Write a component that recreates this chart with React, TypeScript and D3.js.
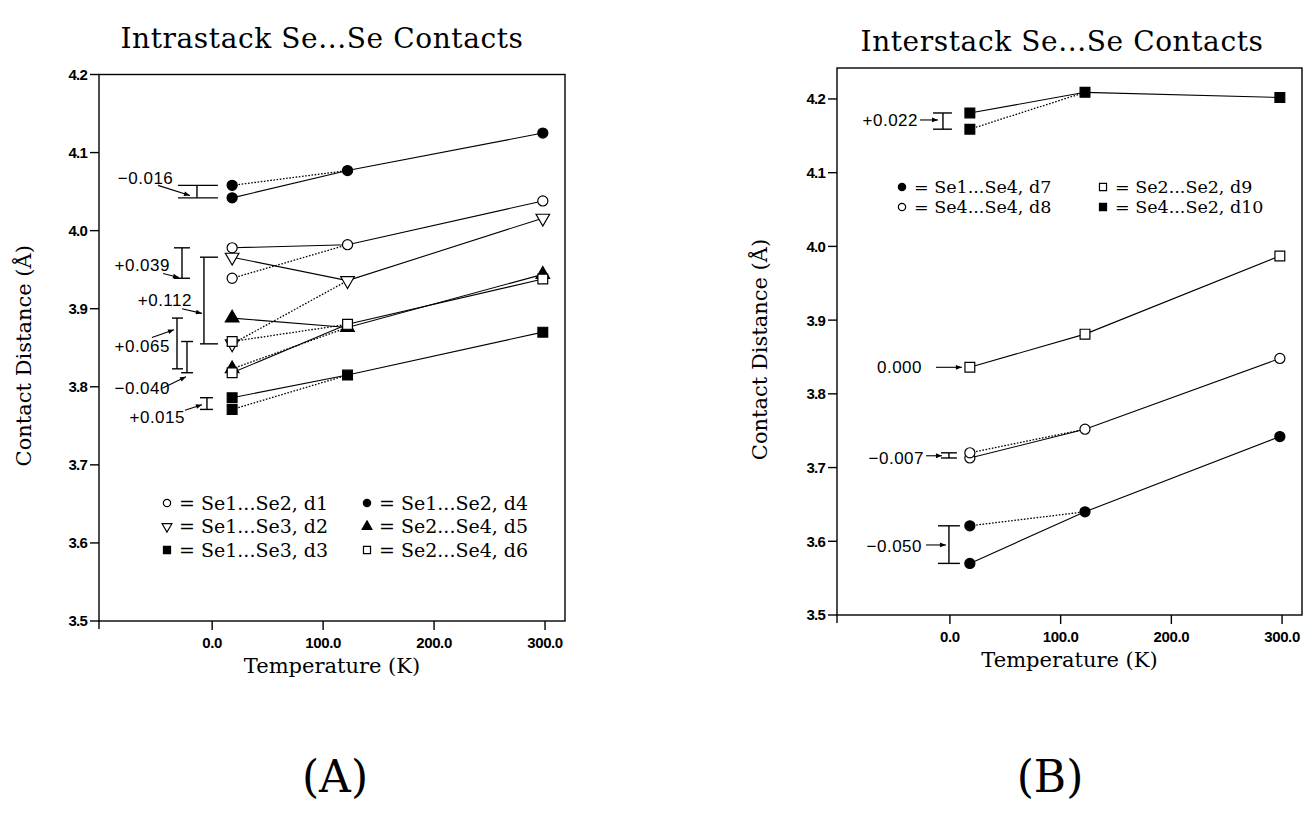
import React from "react";
import * as d3 from "d3";

// temperatures of the three data sets (K)
const temps = [18, 122, 298];
const xTicks = [0, 100, 200, 300];

// (A) intrastack contacts
const intraLabels = ["Se1...Se2, d1", "Se1...Se3, d2", "Se1...Se3, d3", "Se1...Se2, d4", "Se2...Se4, d5", "Se2...Se4, d6"];
const intraSymbols = ["circleOpen", "triDownOpen", "squareFilled", "circleFilled", "triUpFilled", "squareOpen"];
const intraSolid0 = [3.978, 3.966, 3.786, 4.042, 3.888, 3.818];
const intraDotted0 = [3.939, 3.855, 3.771, 4.058, 3.823, 3.858];
const intraMid = [3.982, 3.936, 3.815, 4.077, 3.876, 3.88];
const intraHigh = [4.038, 4.016, 3.87, 4.125, 3.944, 3.938];
const intraDiff = ["+0.039", "+0.112", "+0.015", "\u22120.016", "+0.065", "\u22120.040"];
const intraYTicks = [3.5, 3.6, 3.7, 3.8, 3.9, 4.0, 4.1, 4.2];

// (B) interstack contacts
const interLabels = ["Se1...Se4, d7", "Se4...Se4, d8", "Se2...Se2, d9", "Se4...Se2, d10"];
const interSymbols = ["circleFilled", "circleOpen", "squareOpen", "squareFilled"];
const interSolid0 = [3.57, 3.713, 3.836, 4.181];
const interDotted0 = [3.621, 3.72, null, 4.159];
const interMid = [3.64, 3.752, 3.881, 4.209];
const interHigh = [3.742, 3.848, 3.987, 4.202];
const interDiff = ["\u22120.050", "\u22120.007", "0.000", "+0.022"];
const interYTicks = [3.5, 3.6, 3.7, 3.8, 3.9, 4.0, 4.1, 4.2];

// annotation placement, in temperature / distance units
const intraNotes = [
  { bx: -27.2, cap: [-34.4, -20], lab: [-38, 3.956], arr: [[-44.3, 3.945], [-29.9, 3.94]] },
  { bx: -7.4, cap: [-11, 5.2], lab: [-18.2, 3.911], arr: [[-27.2, 3.9], [-9.2, 3.894]] },
  { bx: -4.7, cap: [-11, 0.7], lab: [-24.5, 3.762], arr: [[-24.5, 3.77], [-9.2, 3.777]] },
  { bx: -13.7, cap: [-30.8, 5.2], lab: [-35, 4.068], arr: [[-48.8, 4.058], [-20, 4.045]] },
  { bx: -31.7, cap: [-36.2, -26.3], lab: [-38, 3.852], arr: [[-54.3, 3.863], [-34.4, 3.873]] },
  { bx: -22.7, cap: [-28, -17.3], lab: [-38, 3.798], arr: [[-45, 3.798], [-23.6, 3.813]] },
];
const interNotes = [
  { bx: -0.9, cap: [-10.8, 9], lab: [-25.2, 3.594], arr: [[-21.6, 3.595], [-3.6, 3.595]] },
  { bx: -0.9, cap: [-8.1, 6.3], lab: [-23.4, 3.713], arr: [[-21.6, 3.716], [-7.2, 3.716]] },
  { bx: null, cap: null, lab: [-25.2, 3.836], arr: [[-12.6, 3.836], [10.8, 3.836]] },
  { bx: -6.3, cap: [-15.3, 1.8], lab: [-28.8, 4.1715], arr: [[-27, 4.1715], [-10.8, 4.1715]] },
];

const SERIF = "'DejaVu Serif', serif";
const SANS = "'Liberation Sans', Arial, sans-serif";

function Marker({ kind, x, y, s = 1 }) {
  const filled = kind.endsWith("Filled");
  let type = d3.symbolCircle;
  let size = 80;
  let rot = 0;
  if (kind.startsWith("square")) { type = d3.symbolSquare; size = 96; }
  if (kind.startsWith("triUp")) { type = d3.symbolTriangle; size = 80; }
  if (kind.startsWith("triDown")) { type = d3.symbolTriangle; size = 80; rot = 180; }
  const d = d3.symbol(type, size * s * s)();
  return (
    <path d={d} transform={`translate(${x},${y}) rotate(${rot})`}
      fill={filled ? "#000" : "#fff"} stroke="#000" strokeWidth={1.2} />
  );
}

function Panel(props) {
  const { left, right, top, bottom, yMax, yTicks, title, titleX, titleY, letter, letterX,
    labels, symbols, solid0, dotted0, mid, high, diffs, notes, legend, yLabelX } = props;
  const x = d3.scaleLinear().domain([-102, 318]).range([left, right]);
  const y = d3.scaleLinear().domain([3.5, yMax]).range([bottom, top]);
  const line = d3.line().x((d) => x(d[0])).y((d) => y(d[1]));

  return (
    <g>
      <text x={titleX} y={titleY} textAnchor="middle" fontFamily={SERIF} fontSize={28} letterSpacing={0.6}>{title}</text>
      <text x={letterX} y={792} textAnchor="middle" fontFamily={SERIF} fontSize={44} fontWeight={200}>{letter}</text>

      {/* frame */}
      <rect x={left} y={top} width={right - left} height={bottom - top} fill="none" stroke="#000" strokeWidth={1.4} />
      <line x1={left} x2={left} y1={bottom} y2={bottom + 8} stroke="#000" strokeWidth={1.4} />

      {yTicks.map((t) => (
        <g key={t}>
          <line x1={left - 9} x2={left} y1={y(t)} y2={y(t)} stroke="#000" strokeWidth={1.4} />
          <text x={left - 12} y={y(t)} dy="0.36em" textAnchor="end" fontFamily={SANS} fontWeight="bold" fontSize={15} letterSpacing={-0.8}>{t.toFixed(1)}</text>
        </g>
      ))}
      {xTicks.map((t) => (
        <g key={t}>
          <line x1={x(t)} x2={x(t)} y1={bottom} y2={bottom + 9} stroke="#000" strokeWidth={1.4} />
          <text x={x(t)} y={bottom + 27} textAnchor="middle" fontFamily={SANS} fontWeight="bold" fontSize={15} letterSpacing={-0.4}>{t.toFixed(1)}</text>
        </g>
      ))}
      <text x={(left + right) / 2} y={bottom + 52} textAnchor="middle" fontFamily={SERIF} fontSize={21}>Temperature (K)</text>
      <text transform={`translate(${yLabelX},${(top + bottom) / 2 + 8}) rotate(-90)`} textAnchor="middle" fontFamily={SERIF} fontSize={21}>Contact Distance (Å)</text>

      {/* series lines */}
      {labels.map((_, i) => (
        <g key={"l" + i}>
          <path d={line([[temps[0], solid0[i]], [temps[1], mid[i]], [temps[2], high[i]]])} fill="none" stroke="#000" strokeWidth={1.1} />
          {dotted0[i] != null && (
            <path d={line([[temps[0], dotted0[i]], [temps[1], mid[i]]])} fill="none" stroke="#000" strokeWidth={1.3} strokeDasharray="1.6,1.6" />
          )}
        </g>
      ))}
      {/* markers */}
      {labels.map((_, i) => (
        <g key={"m" + i}>
          <Marker kind={symbols[i]} x={x(temps[0])} y={y(solid0[i])} />
          {dotted0[i] != null && <Marker kind={symbols[i]} x={x(temps[0])} y={y(dotted0[i])} />}
          <Marker kind={symbols[i]} x={x(temps[1])} y={y(mid[i])} />
          <Marker kind={symbols[i]} x={x(temps[2])} y={y(high[i])} />
        </g>
      ))}

      {/* difference brackets */}
      {notes.map((n, i) => (
        <g key={"n" + i}>
          {n.bx != null && (
            <g stroke="#000" strokeWidth={1.4}>
              <line x1={x(n.bx)} x2={x(n.bx)} y1={y(solid0[i])} y2={y(dotted0[i])} />
              <line x1={x(n.cap[0])} x2={x(n.cap[1])} y1={y(solid0[i])} y2={y(solid0[i])} />
              <line x1={x(n.cap[0])} x2={x(n.cap[1])} y1={y(dotted0[i])} y2={y(dotted0[i])} />
            </g>
          )}
          <line x1={x(n.arr[0][0])} y1={y(n.arr[0][1])} x2={x(n.arr[1][0])} y2={y(n.arr[1][1])}
            stroke="#000" strokeWidth={1.1} markerEnd="url(#ah)" />
          <text x={x(n.lab[0])} y={y(n.lab[1])} dy="0.36em" textAnchor="end" fontFamily={SANS} fontSize={17} letterSpacing={0.5}>{diffs[i]}</text>
        </g>
      ))}

      {/* legend */}
      {labels.map((lab, i) => {
        const col = Math.floor(i / legend.rows);
        const row = i % legend.rows;
        const lx = legend.x + col * legend.colGap;
        const ly = legend.y + row * legend.rowGap;
        return (
          <g key={"g" + i}>
            <Marker kind={symbols[i]} x={lx} y={ly} s={0.72} />
            <text x={lx + 12} y={ly} dy="0.36em" fontFamily={SERIF} fontSize={legend.fontSize}>{"= " + lab}</text>
          </g>
        );
      })}
    </g>
  );
}

export default function App() {
  return (
    <svg width={1312} height={815} style={{ position: "absolute", left: 0, top: 0, background: "#fff" }}>
      <defs>
        <marker id="ah" viewBox="0 0 10 10" refX="10" refY="5" markerWidth="9" markerHeight="6" markerUnits="userSpaceOnUse" orient="auto">
          <path d="M0,1 L10,5 L0,9 z" fill="#000" />
        </marker>
      </defs>
      <rect width={1312} height={815} fill="#fff" />
      <Panel left={99} right={565} top={74.5} bottom={621} yMax={4.2} yTicks={intraYTicks}
        title="Intrastack Se...Se Contacts" titleX={322} titleY={48} letter="(A)" letterX={335}
        labels={intraLabels} symbols={intraSymbols} solid0={intraSolid0} dotted0={intraDotted0}
        mid={intraMid} high={intraHigh} diffs={intraDiff} notes={intraNotes} yLabelX={31}
        legend={{ x: 167, y: 503, rows: 3, rowGap: 23.5, colGap: 200, fontSize: 19 }} />
      <Panel left={837} right={1302} top={68} bottom={615} yMax={4.242} yTicks={interYTicks}
        title="Interstack Se...Se Contacts" titleX={1062} titleY={51} letter="(B)" letterX={1050}
        labels={interLabels} symbols={interSymbols} solid0={interSolid0} dotted0={interDotted0}
        mid={interMid} high={interHigh} diffs={interDiff} notes={interNotes} yLabelX={767}
        legend={{ x: 902, y: 187, rows: 2, rowGap: 20, colGap: 201, fontSize: 17.5 }} />
    </svg>
  );
}
